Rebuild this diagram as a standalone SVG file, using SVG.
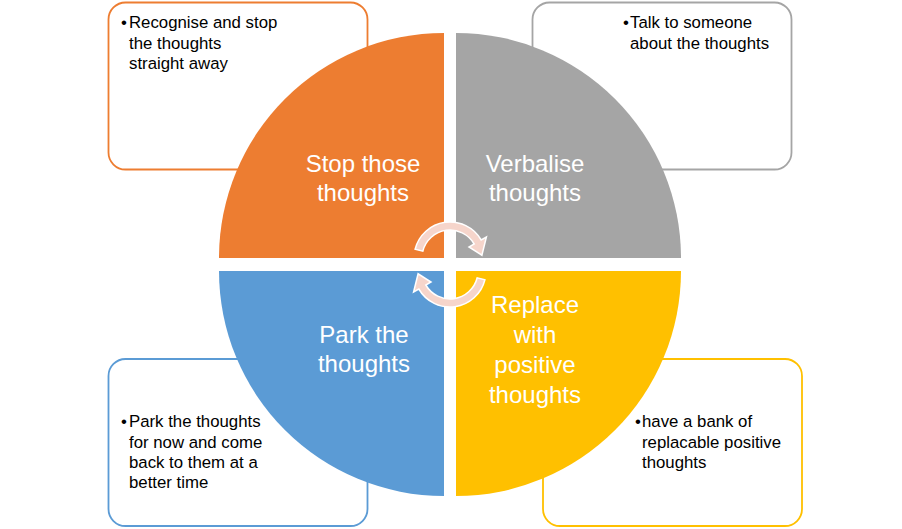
<svg xmlns="http://www.w3.org/2000/svg" width="902" height="529" viewBox="0 0 902 529">
<defs>
<style>
.box{fill:#fff;stroke-width:1.8}
.bt{font-family:"Liberation Sans",Arial,sans-serif;font-size:16.8px;fill:#000}
.ql{font-family:"Liberation Sans",Arial,sans-serif;font-size:24px;fill:#fff;text-anchor:middle}
.arr{fill:#F6D5CB;stroke:#fff;stroke-width:1.5;stroke-linejoin:miter}
</style>
<path id="carrow" d="M415.1 249.3 A36 36 0 0 1 481.2 240 L486.4 237 L481.9 255.2 L469 247 L474.2 244 A28 28 0 0 0 422.8 251.2 Z"/>
</defs>
<rect width="902" height="529" fill="#fff"/>
<g id="node-stop">
<rect class="box" x="108.5" y="2.5" width="259" height="167" rx="17" stroke="#ED7D31"/>
<text class="bt"><tspan x="121" y="28">•</tspan><tspan x="129" y="28">Recognise and stop</tspan><tspan x="129" y="48.5">the thoughts</tspan><tspan x="129" y="69">straight away</tspan></text>
</g>
<g id="node-verbalise">
<rect class="box" x="532.5" y="2.5" width="259" height="167" rx="17" stroke="#A5A5A5"/>
<text class="bt"><tspan x="623" y="28">•</tspan><tspan x="630" y="28">Talk to someone</tspan><tspan x="630" y="48.5">about the thoughts</tspan></text>
</g>
<g id="node-park">
<rect class="box" x="108.5" y="359" width="259" height="167" rx="17" stroke="#5B9BD5"/>
<text class="bt"><tspan x="121" y="427">•</tspan><tspan x="129" y="427">Park the thoughts</tspan><tspan x="129" y="447.5">for now and come</tspan><tspan x="129" y="468">back to them at a</tspan><tspan x="129" y="488">better time</tspan></text>
</g>
<g id="node-replace">
<rect class="box" x="543" y="359" width="259" height="167" rx="17" stroke="#FFC000"/>
<text class="bt"><tspan x="635" y="427">•</tspan><tspan x="642" y="427">have a bank of</tspan><tspan x="642" y="447.5">replacable positive</tspan><tspan x="642" y="468">thoughts</tspan></text>
</g>
<g id="quad-stop">
<path d="M444 258 L219 258 A225 225 0 0 1 444 33 Z" fill="#ED7D31"/>
<text class="ql"><tspan x="363" y="172">Stop those</tspan><tspan x="363" y="201">thoughts</tspan></text>
</g>
<g id="quad-verbalise">
<path d="M456 258 L456 33 A225 225 0 0 1 681 258 Z" fill="#A5A5A5"/>
<text class="ql"><tspan x="535" y="172">Verbalise</tspan><tspan x="535" y="201">thoughts</tspan></text>
</g>
<g id="quad-replace">
<path d="M456 271 L681 271 A225 225 0 0 1 456 496 Z" fill="#FFC000"/>
<text class="ql"><tspan x="535" y="313">Replace</tspan><tspan x="535" y="343">with</tspan><tspan x="535" y="373">positive</tspan><tspan x="535" y="403">thoughts</tspan></text>
</g>
<g id="quad-park">
<path d="M444 271 L444 496 A225 225 0 0 1 219 271 Z" fill="#5B9BD5"/>
<text class="ql"><tspan x="364" y="343">Park the</tspan><tspan x="364" y="372">thoughts</tspan></text>
</g>
<g id="connectors">
<use href="#carrow" class="arr"/>
<use href="#carrow" class="arr" transform="rotate(180 450 264.5)"/>
</g>
</svg>
